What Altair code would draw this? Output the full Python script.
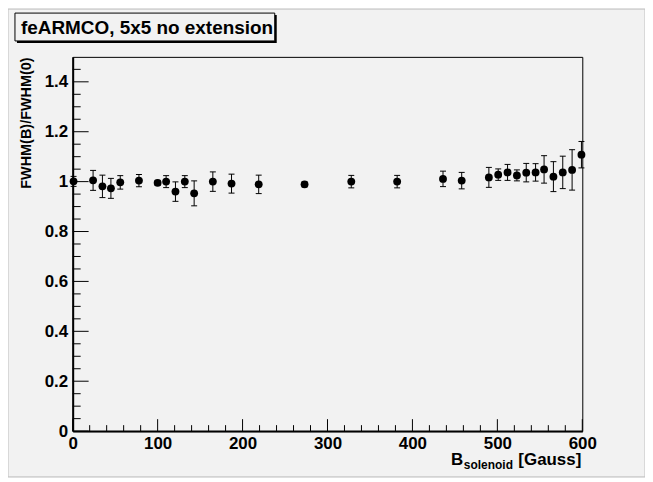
import altair as alt
import pandas as pd

# ---- data ----
b_field = [1, 24, 35, 45, 56, 78, 100, 110, 121, 132, 143, 165, 187, 219,
           273, 328, 382, 436, 458, 490, 501, 512, 523, 534, 545, 555, 566,
           577, 588, 599]
ratio = [1.001, 1.005, 0.981, 0.973, 0.997, 1.004, 0.995, 1.000, 0.960, 1.000,
         0.953, 1.000, 0.992, 0.989, 0.989, 1.000, 1.000, 1.011, 1.004, 1.017,
         1.028, 1.037, 1.025, 1.036, 1.037, 1.049, 1.020, 1.037, 1.047, 1.108]
ratio_err = [0.020, 0.040, 0.045, 0.040, 0.027, 0.025, 0.010, 0.024, 0.039,
             0.024, 0.050, 0.039, 0.038, 0.037, 0.010, 0.025, 0.025, 0.031,
             0.033, 0.040, 0.023, 0.032, 0.022, 0.037, 0.035, 0.055, 0.060,
             0.065, 0.081, 0.053]

x_major = [0, 100, 200, 300, 400, 500, 600]
x_minor = [20, 40, 60, 80, 120, 140, 160, 180, 220, 240, 260, 280, 320, 340,
           360, 380, 420, 440, 460, 480, 520, 540, 560, 580]
y_major = [0, 0.2, 0.4, 0.6, 0.8, 1.0, 1.2, 1.4]
y_minor = [0.05, 0.1, 0.15, 0.25, 0.3, 0.35, 0.45, 0.5, 0.55, 0.65, 0.7, 0.75,
           0.85, 0.9, 0.95, 1.05, 1.1, 1.15, 1.25, 1.3, 1.35, 1.45]

title_text = "feARMCO, 5x5 no extension"
y_title = "FWHM(B)/FWHM(0)"
x_title_main = "B"
x_title_sub = "solenoid"
x_title_unit = "[Gauss]"

# ---- layout / style ----
W, H = 512, 376
FONT = "Liberation Sans"
BG = "#f2f2f2"

df = pd.DataFrame({"b": b_field, "r": ratio, "e": ratio_err})
df["lo"] = df["r"] - df["e"]
df["hi"] = df["r"] + df["e"]

xs = alt.Scale(domain=[0, 600], nice=False, zero=False)
ys = alt.Scale(domain=[0, 1.5], nice=False, zero=False)

x_axis = alt.Axis(values=x_major, format="d", title=None, grid=False,
                  ticks=False, tickSize=0, labelFlush=False,
                  labelFont=FONT, labelFontWeight="bold", labelFontSize=17,
                  labelColor="black", labelPadding=4,
                  domainColor="black", domainWidth=2)
y_axis = alt.Axis(values=y_major, format="~g", grid=False,
                  ticks=False, tickSize=0, labelFlush=False,
                  labelFont=FONT, labelFontWeight="bold", labelFontSize=17,
                  labelColor="black", labelPadding=5,
                  domainColor="black", domainWidth=2,
                  title=y_title, titleFont=FONT, titleFontWeight="bold",
                  titleFontSize=14.5, titleColor="black", titleAngle=270,
                  titleAlign="right", titleBaseline="middle",
                  titleX=-46, titleY=0)


def X(field):
    return alt.X(field, scale=xs, axis=x_axis)


def Y(field):
    return alt.Y(field, scale=ys, axis=y_axis)


points = alt.Chart(df).mark_circle(size=62, color="black", opacity=1).encode(
    x=X("b:Q"), y=Y("r:Q"),
)
bars = alt.Chart(df).mark_rule(color="black", strokeWidth=1).encode(
    x=X("b:Q"), y=Y("lo:Q"), y2="hi:Q",
)
cap_lo = alt.Chart(df).mark_tick(orient="horizontal", size=6, thickness=1,
                                 color="black", opacity=1).encode(
    x=X("b:Q"), y=Y("lo:Q"),
)
cap_hi = alt.Chart(df).mark_tick(orient="horizontal", size=6, thickness=1,
                                 color="black", opacity=1).encode(
    x=X("b:Q"), y=Y("hi:Q"),
)


# inward ROOT-style ticks
def yticks(vals, length):
    return alt.Chart(pd.DataFrame({"v": vals})).mark_rule(
        color="black", strokeWidth=1).encode(
        y=Y("v:Q"), x=alt.value(0), x2=alt.value(length))


def xticks(vals, length):
    return alt.Chart(pd.DataFrame({"v": vals})).mark_rule(
        color="black", strokeWidth=1).encode(
        x=X("v:Q"), y=alt.value(H), y2=alt.value(H - length))


one = pd.DataFrame({"k": [0]})

# canvas border
border = alt.Chart(one).mark_rect(fill=None, stroke="#c0c0c0",
                                  strokeWidth=1).encode(
    x=alt.value(-65), x2=alt.value(W + 63),
    y=alt.value(-48), y2=alt.value(H + 46))

# title box with shadow
shadow = alt.Chart(one).mark_rect(color="black").encode(
    x=alt.value(-56), x2=alt.value(205), y=alt.value(-42), y2=alt.value(-14))
box = alt.Chart(one).mark_rect(fill=BG, stroke="black", strokeWidth=1).encode(
    x=alt.value(-58), x2=alt.value(203), y=alt.value(-44), y2=alt.value(-16))
title = alt.Chart(pd.DataFrame({"t": [title_text]})).mark_text(
    font=FONT, fontWeight="bold", fontSize=19, color="black",
    align="left", baseline="alphabetic").encode(
    text="t:N", x=alt.value(-52), y=alt.value(-23))

# x axis title with subscript
xt_main = alt.Chart(pd.DataFrame({"t": [x_title_main]})).mark_text(
    font=FONT, fontWeight="bold", fontSize=17, color="black",
    align="left", baseline="alphabetic").encode(
    text="t:N", x=alt.value(380), y=alt.value(410))
xt_sub = alt.Chart(pd.DataFrame({"t": [x_title_sub]})).mark_text(
    font=FONT, fontWeight="bold", fontSize=12, color="black",
    align="left", baseline="alphabetic").encode(
    text="t:N", x=alt.value(393), y=alt.value(414))
xt_unit = alt.Chart(pd.DataFrame({"t": [x_title_unit]})).mark_text(
    font=FONT, fontWeight="bold", fontSize=17, color="black",
    align="right", baseline="alphabetic").encode(
    text="t:N", x=alt.value(511), y=alt.value(410))

chart = alt.layer(
    points,
    yticks(y_minor, 8), yticks(y_major, 16),
    xticks(x_minor, 6), xticks(x_major, 12),
    bars, cap_lo, cap_hi,
    border, shadow, box, title, xt_main, xt_sub, xt_unit,
).properties(
    width=W, height=H,
    autosize=alt.AutoSizeParams(type="none"),
    padding={"left": 65, "top": 48, "right": 63, "bottom": 46},
    background=BG,
).configure_view(stroke="black", strokeWidth=1)

chart.save("out.html", embed_options={"renderer": "svg", "actions": False})
